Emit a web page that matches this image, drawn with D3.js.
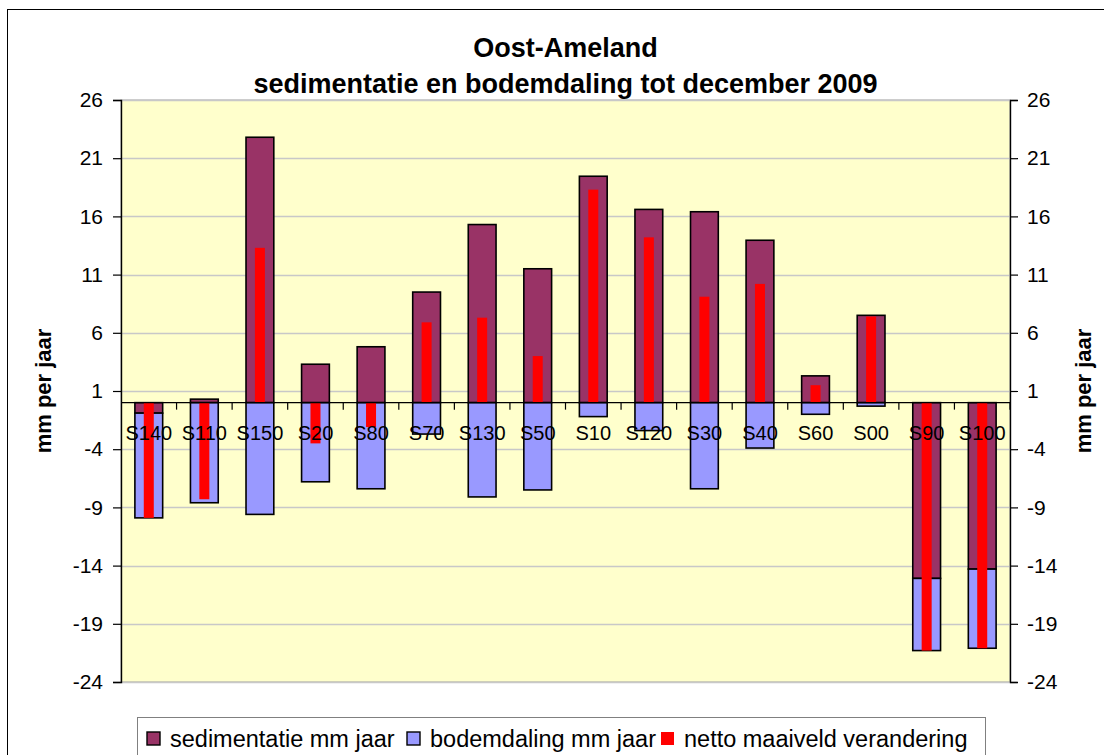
<!DOCTYPE html>
<html>
<head>
<meta charset="utf-8">
<script src="https://cdn.jsdelivr.net/npm/d3@7"></script>
<style>
  body { margin: 0; background: #fff; }
  text { font-family: "Liberation Sans", Arial, sans-serif; }
</style>
</head>
<body>
<div id="chart"></div>
<script>
// raaien (transects)
var categories = ["S140","S110","S150","S20","S80","S70","S130","S50","S10","S120","S30","S40","S60","S00","S90","S100"];
// sedimentatie mm jaar
var sedimentatie = [-0.9, 0.3, 22.8, 3.3, 4.8, 9.5, 15.3, 11.5, 19.45, 16.6, 16.4, 13.95, 2.3, 7.5, -15.1, -14.3];
// bodemdaling mm jaar
var bodemdaling = [-9.0, -8.6, -9.6, -6.8, -7.4, -2.7, -8.1, -7.5, -1.2, -2.4, -7.4, -3.9, -1.0, -0.3, -6.2, -6.8];
// netto maaiveld verandering
var netto = [-9.9, -8.3, 13.3, -3.5, -2.1, 6.9, 7.3, 4.0, 18.3, 14.2, 9.1, 10.2, 1.5, 7.4, -21.3, -21.1];
var yTicks = [26, 21, 16, 11, 6, 1, -4, -9, -14, -19, -24];

var seriesNames = ["sedimentatie mm jaar", "bodemdaling mm jaar", "netto maaiveld verandering"];
var colors = ["#993366", "#9999ff", "#ff0000"];

var width = 1104, height = 755;
var plotLeft = 121, plotRight = 1010, plotTop = 100, plotBottom = 682;

var svg = d3.select("#chart").append("svg")
    .attr("width", width)
    .attr("height", height);

// chart area frame
svg.append("rect")
    .attr("x", 7.5).attr("y", 9.5)
    .attr("width", 1110).attr("height", 760)
    .attr("fill", "#fff").attr("stroke", "#000").attr("stroke-width", 1);

var x = d3.scaleBand().domain(categories).range([plotLeft, plotRight]).paddingInner(0.5).paddingOuter(0.25);
var xStep = d3.scaleBand().domain(categories).range([plotLeft, plotRight]);
var y = d3.scaleLinear().domain([-24, 26]).range([plotBottom, plotTop]);

// plot area
svg.append("rect")
    .attr("x", plotLeft).attr("y", plotTop)
    .attr("width", plotRight - plotLeft).attr("height", plotBottom - plotTop)
    .attr("fill", "#ffffcc").attr("stroke", "#a0a0a0").attr("stroke-width", 1);

// gridlines
svg.append("g").selectAll("line")
    .data(yTicks)
  .enter().append("line")
    .attr("x1", plotLeft).attr("x2", plotRight)
    .attr("y1", function(d){ return Math.round(y(d)) + 0.5; })
    .attr("y2", function(d){ return Math.round(y(d)) + 0.5; })
    .attr("stroke", "#c8c8c8").attr("stroke-width", 1.5);

// stacked bars (negatives stacked separately)
var rows = categories.map(function(c, i){
  return { cat: c, sed: sedimentatie[i], bod: bodemdaling[i] };
});
var stack = d3.stack().keys(["sed", "bod"]).offset(d3.stackOffsetDiverging);
var layers = stack(rows);

svg.append("g").selectAll("g")
    .data(layers)
  .enter().append("g")
    .attr("fill", function(d, i){ return colors[i]; })
  .selectAll("rect")
    .data(function(d){ return d; })
  .enter().append("rect")
    .attr("x", function(d){ return x(d.data.cat); })
    .attr("width", x.bandwidth())
    .attr("y", function(d){ return y(Math.max(d[0], d[1])); })
    .attr("height", function(d){ return Math.abs(y(d[0]) - y(d[1])); })
    .attr("stroke", "#000").attr("stroke-width", 1.6);

// netto bars (narrow, on secondary axis with the same scale)
var nw = 10;
svg.append("g").selectAll("rect")
    .data(netto)
  .enter().append("rect")
    .attr("x", function(d, i){ return x(categories[i]) + x.bandwidth()/2 - nw/2; })
    .attr("width", nw)
    .attr("y", function(d){ return y(Math.max(0, d)); })
    .attr("height", function(d){ return Math.abs(y(d) - y(0)); })
    .attr("fill", colors[2]);

// zero axis line with category ticks
var y0 = y(0);
svg.append("line")
    .attr("x1", plotLeft).attr("x2", plotRight)
    .attr("y1", y0).attr("y2", y0)
    .attr("stroke", "#000").attr("stroke-width", 1.2);
svg.append("g").selectAll("line")
    .data(categories)
  .enter().append("line")
    .attr("x1", function(d){ return xStep(d) + xStep.step(); })
    .attr("x2", function(d){ return xStep(d) + xStep.step(); })
    .attr("y1", y0).attr("y2", y0 + 7)
    .attr("stroke", "#000").attr("stroke-width", 1.2);

// category labels
svg.append("g").selectAll("text")
    .data(categories)
  .enter().append("text")
    .attr("x", function(d){ return x(d) + x.bandwidth()/2; })
    .attr("y", 440)
    .attr("text-anchor", "middle")
    .attr("font-size", 20)
    .attr("fill", "#000")
    .text(function(d){ return d; });

// y axes
var fmt = function(d){ return String(d); };
var yLeft = svg.append("g")
    .attr("transform", "translate(" + plotLeft + ",0)")
    .call(d3.axisLeft(y).tickValues(yTicks).tickSize(8).tickPadding(10).tickFormat(fmt));
var yRight = svg.append("g")
    .attr("transform", "translate(" + plotRight + ",0)")
    .call(d3.axisRight(y).tickValues(yTicks).tickSize(8).tickPadding(9).tickFormat(fmt));
[yLeft, yRight].forEach(function(a){
  a.select(".domain").attr("stroke", "#000").attr("stroke-width", 1.4);
  a.selectAll(".tick line").attr("stroke", "#000").attr("stroke-width", 1.2);
  a.selectAll(".tick text")
    .attr("font-family", "Liberation Sans, Arial, sans-serif")
    .attr("font-size", 21).attr("fill", "#000");
});

// axis titles
svg.append("text")
    .attr("transform", "translate(51," + ((plotTop + plotBottom)/2) + ") rotate(-90)")
    .attr("text-anchor", "middle")
    .attr("font-size", 22).attr("font-weight", "bold")
    .text("mm per jaar");
svg.append("text")
    .attr("transform", "translate(1091," + ((plotTop + plotBottom)/2) + ") rotate(-90)")
    .attr("text-anchor", "middle")
    .attr("font-size", 22).attr("font-weight", "bold")
    .text("mm per jaar");

// title
svg.append("text")
    .attr("x", (plotLeft + plotRight)/2).attr("y", 57)
    .attr("text-anchor", "middle")
    .attr("font-size", 27).attr("font-weight", "bold")
    .text("Oost-Ameland");
svg.append("text")
    .attr("x", (plotLeft + plotRight)/2).attr("y", 93)
    .attr("text-anchor", "middle")
    .attr("font-size", 27).attr("font-weight", "bold")
    .text("sedimentatie en bodemdaling tot december 2009");

// legend
var legend = svg.append("g");
legend.append("rect")
    .attr("x", 137.5).attr("y", 717.5)
    .attr("width", 848).attr("height", 50)
    .attr("fill", "#fff").attr("stroke", "#808080").attr("stroke-width", 1);
var lx = [147, 407, 661];
var items = legend.selectAll("g.item")
    .data(seriesNames)
  .enter().append("g")
    .attr("class", "item")
    .attr("transform", function(d, i){ return "translate(" + lx[i] + ",732)"; });
items.append("rect")
    .attr("width", 13).attr("height", 13)
    .attr("fill", function(d, i){ return colors[i]; })
    .attr("stroke", function(d, i){ return i < 2 ? "#000" : "none"; })
    .attr("stroke-width", 1.4);
items.append("text")
    .attr("x", 23).attr("y", 15)
    .attr("font-size", 23.5)
    .text(function(d){ return d; });
</script>
</body>
</html>
